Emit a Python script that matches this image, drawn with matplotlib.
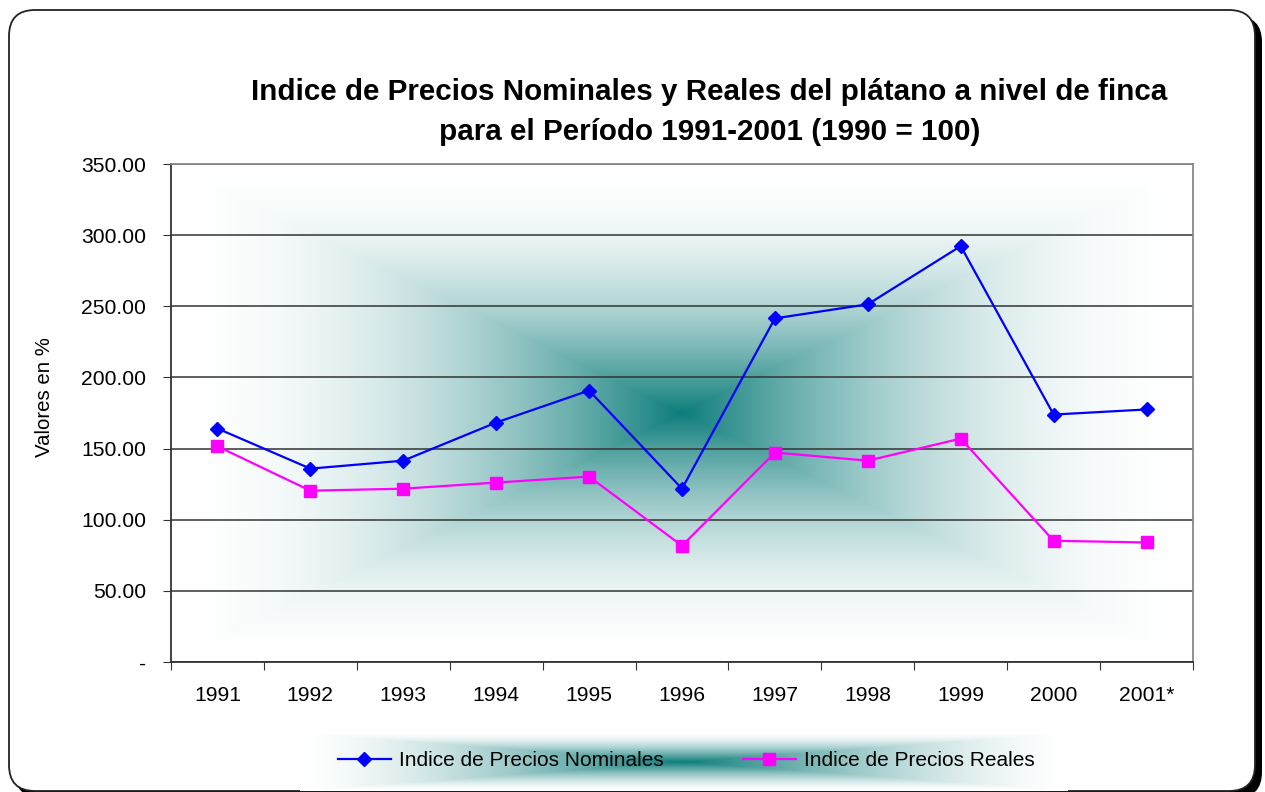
import numpy as np
import matplotlib
matplotlib.use('Agg')
import matplotlib.pyplot as plt
from matplotlib.patches import FancyBboxPatch

plt.rcParams['font.family'] = ['Liberation Sans', 'DejaVu Sans']

years = ['1991', '1992', '1993', '1994', '1995', '1996',
         '1997', '1998', '1999', '2000', '2001*']
nominales = [164.1, 135.9, 141.5, 168.3, 190.8, 121.8,
             241.5, 251.4, 292.3, 173.9, 177.5]
reales = [151.6, 120.4, 121.8, 126.1, 130.3, 81.7,
          147.2, 141.5, 157.0, 85.2, 84.0]
yticks = [0, 50, 100, 150, 200, 250, 300, 350]

W, H = 1265, 792
fig = plt.figure(figsize=(W / 100, H / 100), dpi=100)
fig.patch.set_facecolor('white')

teal = np.array([0.05, 0.49, 0.48])


def gradient(nx, ny, power=2.0):
    # rectangular "from centre" fill: teal in the middle, white at the edges
    gx, gy = np.meshgrid(np.linspace(-1, 1, nx), np.linspace(-1, 1, ny))
    t = np.maximum(np.abs(gx), np.abs(gy))
    f = ((1 - t) ** power)[..., None]
    return np.ones(3) * (1 - f) + teal * f


# background frame with shadow (bottom edge runs off the picture)
bg = fig.add_axes([0, 0, 1, 1], zorder=-5)
bg.set_xlim(0, W)
bg.set_ylim(H, 0)
bg.axis('off')
bg.add_patch(FancyBboxPatch((15, 16), 1247, 782,
                            boxstyle='round,pad=0,rounding_size=26',
                            fc='black', ec='black', lw=0))
bg.add_patch(FancyBboxPatch((9, 10), 1246, 781,
                            boxstyle='round,pad=0,rounding_size=26',
                            fc='white', ec='#222222', lw=1.3))

# plot area
x0, x1, y0, y1 = 171, 1193, 164, 662
ax = fig.add_axes([x0 / W, 1 - y1 / H, (x1 - x0) / W, (y1 - y0) / H])
ax.imshow(gradient(800, 400), extent=(-0.5, 10.5, 0, 350),
          aspect='auto', zorder=0, interpolation='bilinear')

x = np.arange(len(years))
ax.plot(x, nominales, color='#0000ff', lw=1.6, marker='D', ms=7,
        label='Indice de Precios Nominales', zorder=3)
ax.plot(x, reales, color='#ff00ff', lw=1.6, marker='s', ms=8,
        label='Indice de Precios Reales', zorder=3)

ax.set_xlim(-0.5, 10.5)
ax.set_ylim(0, 350)
ax.set_yticks(yticks)
ax.set_yticklabels(['-' if v == 0 else f'{v:.2f}' for v in yticks], fontsize=15.2)
ax.set_xticks(np.arange(-0.5, 11, 1))
ax.set_xticklabels([])
ax.set_xticks(x, minor=True)
ax.set_xticklabels(years, minor=True, fontsize=15.2)
ax.tick_params(axis='x', which='major', length=6, direction='out', color='#333333')
ax.tick_params(axis='x', which='minor', length=0, pad=17.5)
ax.tick_params(axis='y', length=6, direction='out', pad=12, color='#333333')
ax.yaxis.grid(True, color='#333333', lw=1.1)
for s in ['top', 'right']:
    ax.spines[s].set_color('#888888')
    ax.spines[s].set_linewidth(1.3)
for s in ['left', 'bottom']:
    ax.spines[s].set_color('#333333')
    ax.spines[s].set_linewidth(1.3)

fig.text(45 / W, 1 - 397 / H, 'Valores en %', rotation=90,
         ha='center', va='center', fontsize=14.7)

fig.text(709.5 / W, 1 - 92.5 / H,
         'Indice de Precios Nominales y Reales del plátano a nivel de finca',
         ha='center', va='center', fontsize=21.3, fontweight='bold')
fig.text(709.5 / W, 1 - 131.5 / H, 'para el Período 1991-2001 (1990 = 100)',
         ha='center', va='center', fontsize=21.3, fontweight='bold')

# legend with gradient backdrop
lx0, lx1, ly0, ly1 = 300, 1068, 733, 791
lax = fig.add_axes([lx0 / W, 1 - ly1 / H, (lx1 - lx0) / W, (ly1 - ly0) / H])
lax.imshow(gradient(600, 60, power=1.5), aspect='auto', interpolation='bilinear')
lax.axis('off')

fig.legend(loc='center', bbox_to_anchor=(686 / W, 1 - 761 / H), ncol=2,
           frameon=False, fontsize=15, handlelength=2.55,
           handletextpad=0.38, columnspacing=3.8)

fig.savefig('out.png', dpi=100, facecolor='white')
